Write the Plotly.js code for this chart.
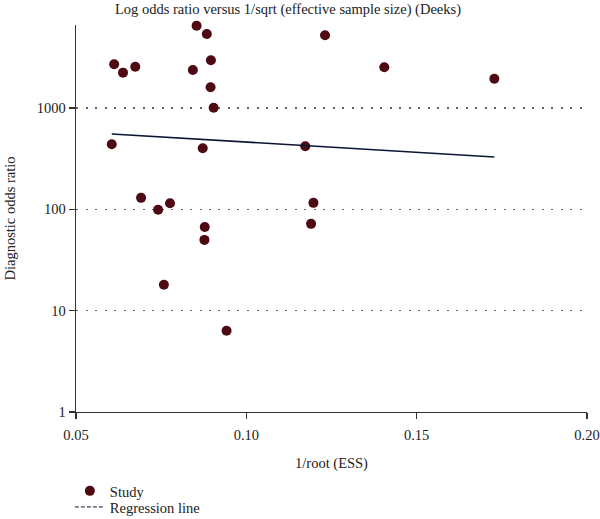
<!DOCTYPE html>
<html>
<head>
<meta charset="utf-8">
<script src="https://cdn.plot.ly/plotly-3.0.1.min.js"></script>
<style>html,body{margin:0;padding:0;background:#fff;}#chart{width:600px;height:519px;}</style>
</head>
<body>
<div id="chart"></div>
<script>
// Study points: 1/sqrt(ESS) and diagnostic odds ratio
const studyX = [0.0854, 0.0884, 0.1231, 0.0896, 0.0612, 0.0674, 0.0638, 0.0843, 0.0895, 0.0904,
                0.1405, 0.1728, 0.0605, 0.0872, 0.1173, 0.0691, 0.0776, 0.0741, 0.1197, 0.1190,
                0.0878, 0.0877, 0.0758, 0.0942];
const studyDOR = [6505, 5387, 5230, 2965, 2705, 2562, 2238, 2377, 1605, 1009,
                  2528, 1950, 439, 401, 420, 130, 115, 99, 116, 72,
                  67, 50, 18, 6.35];
// Regression line endpoints
const regX = [0.0605, 0.1728];
const regDOR = [555, 329];
const yTickVals = [1, 10, 100, 1000];
const yTickText = ['1', '10', '100', '1000'];
const xTickVals = [0.05, 0.10, 0.15, 0.20];
const xTickText = ['0.05', '0.10', '0.15', '0.20'];

const font = 'Liberation Serif, Times New Roman, serif';
const fs = 14.5;

const traces = [
  {x: studyX, y: studyDOR, type: 'scatter', mode: 'markers', name: 'Study',
   marker: {color: '#4d0a12', size: 10}, cliponaxis: false, legend: 'legend'},
  {x: regX, y: regDOR, type: 'scatter', mode: 'lines', name: 'Regression line',
   line: {color: '#0b1633', width: 1.6}, showlegend: false},
  {x: [null], y: [null], type: 'scatter', mode: 'lines', name: 'Regression line',
   line: {color: '#0b1633', width: 1, dash: '4px,2px'}, legend: 'legend2'}
];

const legendBase = {x: -0.012, xanchor: 'left', yanchor: 'middle', orientation: 'v',
  font: {family: font, size: fs, color: '#222'}, bgcolor: 'rgba(0,0,0,0)', itemwidth: 30};

const layout = {
  width: 600, height: 519,
  margin: {l: 76, r: 13, t: 25, b: 107, autoexpand: false},
  paper_bgcolor: '#fff', plot_bgcolor: '#fff',
  font: {family: font, size: fs, color: '#222'},
  title: {text: 'Log odds ratio versus 1/sqrt (effective sample size) (Deeks)',
          x: 0.48, xanchor: 'center', y: 0.983, yanchor: 'middle', yref: 'container',
          font: {family: font, size: fs, color: '#222'}},
  xaxis: {range: [0.05, 0.20], tickvals: xTickVals, ticktext: xTickText,
          showline: true, linecolor: '#333', linewidth: 1.3, ticks: 'outside', ticklen: 6,
          tickcolor: '#333', tickwidth: 1.3, showgrid: false, zeroline: false,
          ticklabelstandoff: 3,
          tickfont: {family: font, size: fs, color: '#222'},
          title: {text: '1/root (ESS)', standoff: 16, font: {family: font, size: fs, color: '#222'}}},
  yaxis: {type: 'log', range: [0, 3.82], tickvals: yTickVals, ticktext: yTickText,
          showline: true, linecolor: '#333', linewidth: 1.3, ticks: 'outside', ticklen: 6,
          tickcolor: '#333', tickwidth: 1.3, showgrid: true, gridcolor: '#666', griddash: '2px,7.5px', gridwidth: 1.4,
          zeroline: false, tickfont: {family: font, size: fs, color: '#222'},
          title: {text: 'Diagnostic odds ratio', standoff: 17, font: {family: font, size: fs, color: '#222'}}},
  legend: Object.assign({}, legendBase, {y: -0.204}),
  legend2: Object.assign({}, legendBase, {y: -0.2455}),
  showlegend: true
};

Plotly.newPlot('chart', traces, layout, {displayModeBar: false, staticPlot: true});
</script>
</body>
</html>
